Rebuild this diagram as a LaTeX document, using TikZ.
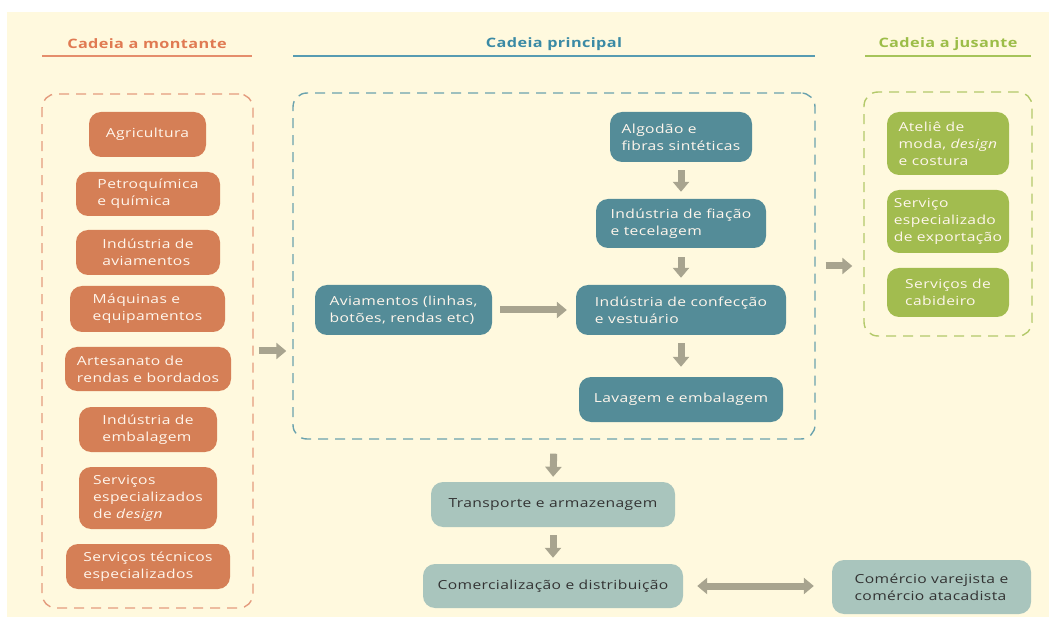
\documentclass[tikz,border=0pt]{standalone}
\usepackage{fontspec}
\setmainfont{Open Sans}[FakeStretch=1.25,LetterSpace=3]
\usetikzlibrary{positioning,arrows.meta}
\definecolor{cream}{HTML}{FFF9DE}
\definecolor{montc}{HTML}{D57F56}
\definecolor{montl}{HTML}{E49C7E}
\definecolor{montt}{HTML}{E07A52}
\definecolor{princ}{HTML}{548C98}
\definecolor{princl}{HTML}{6AA2AE}
\definecolor{princt}{HTML}{3A8AA5}
\definecolor{jusc}{HTML}{A2BC4F}
\definecolor{jusl}{HTML}{B3C96A}
\definecolor{just}{HTML}{9CBD48}
\definecolor{distc}{HTML}{A9C5BD}
\definecolor{arrc}{HTML}{A8A48F}
\definecolor{boxtxt}{HTML}{FFF6EC}

\begin{document}
\begin{tikzpicture}[x=1pt,y=-1pt,
  box/.style={rounded corners=12pt,align=left,inner sep=0pt,text=boxtxt,font=\fontsize{12.5}{17}\selectfont},
  mbox/.style={box,fill=montc},
  pbox/.style={box,fill=princ},
  jbox/.style={box,fill=jusc},
  dbox/.style={box,fill=distc,text=black!80},
  group/.style={draw,dash pattern=on 10pt off 7pt,line width=1.4pt,rounded corners=14pt,inner sep=0pt},
  hdr/.style={font=\fontsize{13}{16}\selectfont\bfseries},
  flow/.style={draw=arrc,line width=7pt,-{Triangle[width=16pt,length=10pt]}}]
\useasboundingbox (0,0) rectangle (1049,617);
% ---- background ----
\fill[cream] (7,12) rectangle (1049,617);
% ---- headers ----
\node[hdr,text=montt] (hmont) at (147,44) {Cadeia a montante};
\node[hdr,text=princt] (hprinc) at (554,44) {Cadeia principal};
\node[hdr,text=just] (hjus) at (948,44) {Cadeia a jusante};
\draw[montt!85,line width=1.5pt] (42,56) -- (252,56);
\draw[princt!85,line width=1.5pt] (293,56) -- (815,56);
\draw[just!90,line width=1.5pt] (865,56) -- (1031,56);
% ---- dashed groups ----
\node[group,draw=montl,minimum width=211,minimum height=514] (montante) at (147.5,351) {};
\node[group,draw=princl,minimum width=522,minimum height=346] (principal) at (554,266) {};
\node[group,draw=jusl,minimum width=168,minimum height=244] (jusante) at (948,214) {};
% ---- cadeia a montante ----
\node[mbox,minimum width=117,minimum height=45] (agric) at (147.5,134.5) {Agricultura};
\node[mbox,minimum width=144,minimum height=44] (petro) at (148,194) {Petroquímica\\e química};
\node[mbox,minimum width=144,minimum height=45] (indav) at (148,252.5) {Indústria de\\aviamentos};
\node[mbox,minimum width=155,minimum height=46] (maq) at (147.5,309) {Máquinas e\\equipamentos};
\node[mbox,minimum width=166,minimum height=44] (artes) at (148,369) {Artesanato de\\rendas e bordados};
\node[mbox,minimum width=138,minimum height=45] (indemb) at (148,429.5) {Indústria de\\embalagem};
\node[mbox,minimum width=138,minimum height=62] (servdes) at (148,498) {Serviços\\especializados\\de \textit{design}};
\node[mbox,minimum width=164,minimum height=45] (servtec) at (148,566.5) {Serviços técnicos\\especializados};
% ---- cadeia principal ----
\node[pbox,minimum width=142,minimum height=50] (algodao) at (681,137) {Algodão e\\fibras sintéticas};
\node[pbox,minimum width=170,minimum height=49] (fiacao) at (681,223.5) {Indústria de fiação\\e tecelagem};
\node[pbox,minimum width=177,minimum height=50] (aviam) at (403.5,310) {Aviamentos (linhas,\\botões, rendas etc)};
\node[pbox,minimum width=210,minimum height=50] (confec) at (681,310) {Indústria de confecção\\e vestuário};
\node[pbox,minimum width=204,minimum height=45] (lavagem) at (681,399.5) {Lavagem e embalagem};
% ---- cadeia a jusante ----
\node[jbox,minimum width=122,minimum height=63] (atelie) at (948,143.5) {Ateliê de\\moda, \textit{design}\\e costura};
\node[jbox,minimum width=122,minimum height=63] (export) at (948,221.5) {Serviço\\especializado\\de exportação};
\node[jbox,minimum width=122,minimum height=49] (cabid) at (948,292.5) {Serviços de\\cabideiro};
% ---- distribuição ----
\node[dbox,minimum width=244,minimum height=45] (transp) at (553,504.5) {Transporte e armazenagem};
\node[dbox,minimum width=260,minimum height=44] (comerc) at (553,586) {Comercialização e distribuição};
\node[dbox,minimum width=199,minimum height=54] (varejo) at (931.5,587) {Comércio varejista e\\comércio atacadista};
% ---- arrows ----
\draw[flow,shorten <=8pt,shorten >=7pt] (algodao) -- (fiacao);
\draw[flow,shorten <=9pt,shorten >=7pt] (fiacao) -- (confec);
\draw[flow,shorten <=8pt,shorten >=10pt] (confec) -- (lavagem);
\draw[flow,shorten <=8pt,shorten >=9pt] (aviam) -- (confec);
\draw[flow,shorten <=5pt,shorten >=6pt] (montante.east) -- (montante.east -| principal.west);
\draw[flow,shorten <=10pt,shorten >=11pt] (principal.east) -- (principal.east -| jusante.west);
\draw[flow,shorten <=14pt,shorten >=5pt] (principal.south) -- (transp.north);
\draw[flow,shorten <=8pt,shorten >=6pt] (transp) -- (comerc);
\draw[flow,{Triangle[width=16pt,length=10pt]}-{Triangle[width=16pt,length=10pt]},shorten <=14pt,shorten >=18pt] (comerc.east) -- (comerc.east -| varejo.west);
\end{tikzpicture}
\end{document}
